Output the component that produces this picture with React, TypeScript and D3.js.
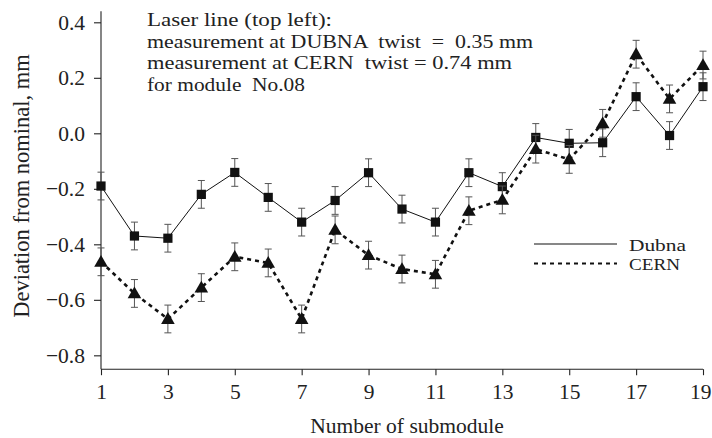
import React, { useEffect, useRef } from "react";
import * as d3 from "d3";

// submodule numbers 1..19
const submodules = [1, 2, 3, 4, 5, 6, 7, 8, 9, 10, 11, 12, 13, 14, 15, 16, 17, 18, 19];

// deviation from nominal, mm
const dubna = [-0.19, -0.37, -0.378, -0.22, -0.141, -0.231, -0.32, -0.242, -0.142, -0.273, -0.32, -0.142, -0.192, -0.015, -0.036, -0.034, 0.132, -0.008, 0.168];
const cern = [-0.463, -0.577, -0.669, -0.556, -0.445, -0.467, -0.669, -0.348, -0.439, -0.489, -0.508, -0.279, -0.24, -0.057, -0.094, 0.036, 0.285, 0.124, 0.246];
const dubnaErr = [0.05, 0.05, 0.05, 0.05, 0.05, 0.05, 0.05, 0.05, 0.05, 0.05, 0.05, 0.05, 0.05, 0.05, 0.05, 0.05, 0.05, 0.05, 0.05];
const cernErr = [0.05, 0.05, 0.05, 0.05, 0.05, 0.05, 0.05, 0.05, 0.05, 0.05, 0.05, 0.05, 0.05, 0.05, 0.05, 0.05, 0.05, 0.05, 0.05];

const xLabelTicks = [1, 3, 5, 7, 9, 11, 13, 15, 17, 19];
const yLabelTicks = [-0.8, -0.6, -0.4, -0.2, 0.0, 0.2, 0.4];
const yMinorTicks = [-0.8, -0.7, -0.6, -0.5, -0.4, -0.3, -0.2, -0.1, 0.0, 0.1, 0.2, 0.3, 0.4];

const notes = [
  "Laser line (top left):",
  "measurement at DUBNA  twist  =  0.35 mm",
  "measurement at CERN  twist = 0.74 mm",
  "for module  No.08",
];
// rendered widths of the note lines, px
const noteWidths = [185, 386, 365, 158];

const FONT = "'Liberation Serif', 'Times New Roman', 'DejaVu Serif', serif";

const TwistChart = () => {
  const svgRef = useRef<SVGSVGElement>(null);

  useEffect(() => {
    const svg = d3.select(svgRef.current);
    svg.selectAll("*").remove();

    const width = 712;
    const height = 438;
    svg.attr("width", width).attr("height", height);

    const x = d3.scaleLinear().domain([1, 19]).range([101, 703]);
    const y = d3.scaleLinear().domain([-0.85, 0.44]).range([369.2, 11.2]);
    const y0 = y(-0.85);

    // y axis: minor + labelled ticks
    const yAxis = svg.append("g").attr("transform", `translate(${x(1)},0)`);
    yAxis.call(d3.axisLeft(y).tickValues(yMinorTicks).tickSize(4).tickFormat(() => ""));
    yAxis.call(
      d3.axisLeft(y).tickValues(yLabelTicks).tickSize(7).tickPadding(9).tickFormat(d3.format(".1f"))
    );
    yAxis.selectAll("path.domain").attr("d", `M0,${y(0.44)}V${y0}`);

    // x axis
    const xAxis = svg.append("g").attr("transform", `translate(0,${y0})`);
    xAxis.call(d3.axisBottom(x).tickValues(submodules).tickSize(4).tickFormat(() => ""));
    xAxis.call(d3.axisBottom(x).tickValues(xLabelTicks).tickSize(6).tickPadding(9).tickFormat(d3.format("d")));
    xAxis.selectAll("path.domain").attr("d", `M${x(1)},0H${x(19)}`);

    svg.selectAll(".tick text")
      .style("font-family", FONT)
      .attr("font-size", 21.5)
      .attr("fill", "#222");
    svg.selectAll(".domain, .tick line").attr("stroke", "#222").attr("stroke-width", 1.1);

    // last x label sits on the page edge: keep it inside
    xAxis.selectAll<SVGTextElement, number>(".tick text")
      .filter(d => d === 19)
      .attr("text-anchor", "end")
      .attr("x", 8);

    // axis titles
    svg.append("text")
      .attr("transform", `translate(29,186) rotate(-90)`)
      .attr("text-anchor", "middle")
      .style("font-family", FONT)
      .attr("font-size", 22.5)
      .attr("fill", "#222")
      .text("Deviation from nominal, mm");

    svg.append("text")
      .attr("x", 407)
      .attr("y", 433)
      .attr("text-anchor", "middle")
      .style("font-family", FONT)
      .attr("font-size", 21.5)
      .attr("fill", "#222")
      .text("Number of submodule");

    const series = [
      { name: "Dubna", values: dubna, err: dubnaErr, dash: null, width: 1, shape: "square", labelW: 57 },
      { name: "CERN", values: cern, err: cernErr, dash: "4,4", width: 2.6, shape: "triangle", labelW: 51 },
    ];

    const line = d3.line<number>()
      .x((_, i) => x(submodules[i]))
      .y(d => y(d));

    series.forEach(s => {
      // error bars
      const eb = svg.append("g").attr("stroke", "#555").attr("stroke-width", 1);
      s.values.forEach((v, i) => {
        const cx = x(submodules[i]);
        const top = y(v + s.err[i]);
        const bot = y(v - s.err[i]);
        eb.append("line").attr("x1", cx).attr("x2", cx).attr("y1", top).attr("y2", bot);
        eb.append("line").attr("x1", cx - 3.5).attr("x2", cx + 3.5).attr("y1", top).attr("y2", top);
        eb.append("line").attr("x1", cx - 3.5).attr("x2", cx + 3.5).attr("y1", bot).attr("y2", bot);
      });

      svg.append("path")
        .datum(s.values)
        .attr("fill", "none")
        .attr("stroke", "#111")
        .attr("stroke-width", s.width)
        .attr("stroke-dasharray", s.dash)
        .attr("d", line);

      const sym = s.shape === "square"
        ? d3.symbol().type(d3.symbolSquare).size(85)
        : d3.symbol().type(d3.symbolTriangle).size(80);

      svg.append("g")
        .selectAll("path")
        .data(s.values)
        .enter()
        .append("path")
        .attr("transform", (d, i) => `translate(${x(submodules[i])},${y(d) + (s.shape === "triangle" ? 1 : 0)})`)
        .attr("d", sym)
        .attr("fill", "#111");
    });

    // annotation (tight line spacing, glyphs widened to the original widths)
    notes.forEach((t, i) => {
      svg.append("text")
        .attr("x", 147)
        .attr("y", 26 + i * 21.6)
        .style("font-family", FONT)
        .style("white-space", "pre")
        .attr("font-size", 19.4)
        .attr("fill", "#222")
        .attr("textLength", noteWidths[i])
        .attr("lengthAdjust", "spacingAndGlyphs")
        .text(t);
    });

    // legend
    const legend = svg.append("g");
    series.forEach((s, i) => {
      const ly = 244 + i * 19.5;
      legend.append("line")
        .attr("x1", 534).attr("x2", 617)
        .attr("y1", ly).attr("y2", ly)
        .attr("stroke", "#111")
        .attr("stroke-width", s.width === 1 ? 1.1 : 2.2)
        .attr("stroke-dasharray", s.dash);
      legend.append("text")
        .attr("x", 629)
        .attr("y", ly + 6.5)
        .style("font-family", FONT)
        .attr("font-size", 17.4)
        .attr("fill", "#222")
        .attr("textLength", s.labelW)
        .attr("lengthAdjust", "spacingAndGlyphs")
        .text(s.name);
    });
  }, []);

  return <svg ref={svgRef}></svg>;
};

export default function App() {
  return (
    <div style={{ position: "absolute", left: 0, top: 0 }}>
      <TwistChart />
    </div>
  );
}
